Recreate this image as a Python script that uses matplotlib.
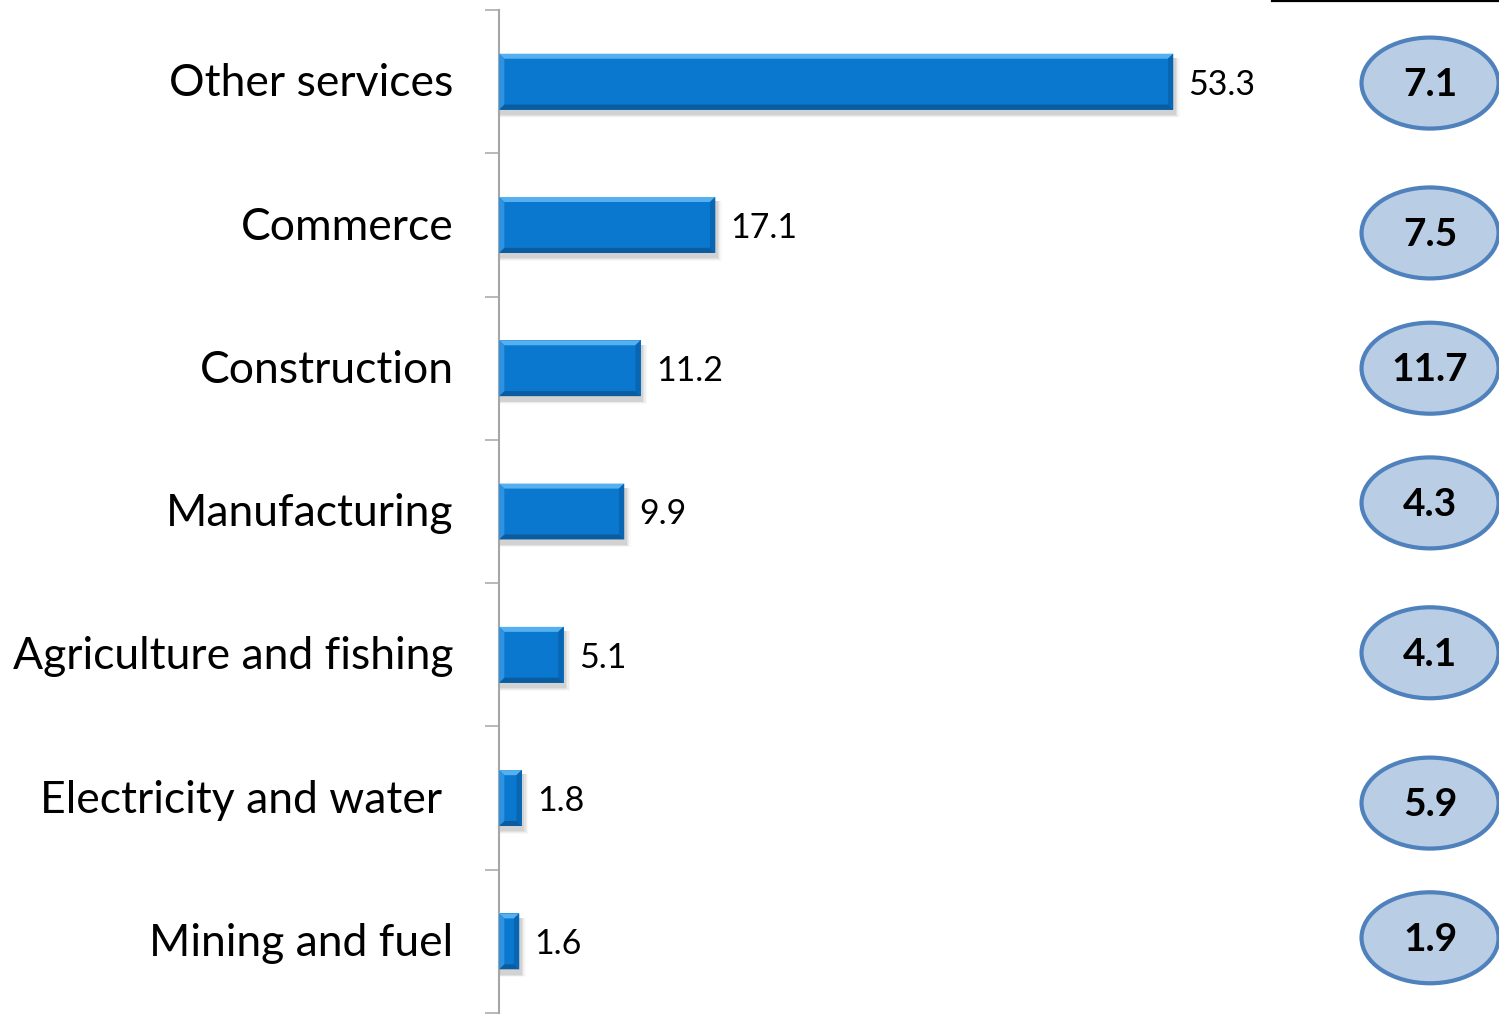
import matplotlib
matplotlib.use("Agg")
import matplotlib.pyplot as plt
from matplotlib.patches import Rectangle, Polygon, Ellipse
from matplotlib.lines import Line2D

plt.rcParams["font.family"] = ["Lato", "DejaVu Sans"]

sectors = ["Other services", "Commerce", "Construction", "Manufacturing",
           "Agriculture and fishing", "Electricity and water ", "Mining and fuel"]
shares = [53.3, 17.1, 11.2, 9.9, 5.1, 1.8, 1.6]
growth = [7.1, 7.5, 11.7, 4.3, 4.1, 5.9, 1.9]

# small vertical nudges of the bubbles relative to the bar rows
bubble_dy = [0.01, 0.056, 0.0, -0.06, -0.014, 0.035, -0.025]

W, H, DPI = 1499, 1017, 100
fig = plt.figure(figsize=(W / DPI, H / DPI), dpi=DPI)
ax = fig.add_axes([499 / W, 4 / H, 1000 / W, 1003 / H])

XMAX = 1000 / 12.65
ax.set_xlim(0, XMAX)
ax.set_ylim(len(sectors) - 0.5, -0.5)

BAR_H = 0.39
BX = 0.42   # bevel size in x units
BY = 0.035  # bevel size in y units

for i, v in enumerate(shares):
    top = i - BAR_H / 2
    bot = i + BAR_H / 2
    # soft drop shadow
    for k, a in enumerate([0.035, 0.05, 0.07, 0.09]):
        off = 0.45 - k * 0.1
        ax.add_patch(Rectangle((0.1, top + 0.03), v + off - 0.05, BAR_H + off * 0.055,
                               facecolor="#404040", alpha=a, lw=0, zorder=1))
    ax.add_patch(Rectangle((0, top), v, BAR_H, facecolor="#0B78D0", lw=0, zorder=2))
    bx = min(BX, v / 3)
    # bevel edges: light top/left, dark bottom/right
    ax.add_patch(Polygon([(0, top), (v, top), (v - bx, top + BY), (bx, top + BY)],
                         closed=True, facecolor="#55B0F0", lw=0, zorder=3))
    ax.add_patch(Polygon([(0, bot), (v, bot), (v - bx, bot - BY), (bx, bot - BY)],
                         closed=True, facecolor="#0A5C9E", lw=0, zorder=3))
    ax.add_patch(Polygon([(v, top), (v, bot), (v - bx, bot - BY), (v - bx, top + BY)],
                         closed=True, facecolor="#0866B2", lw=0, zorder=3))
    ax.add_patch(Polygon([(0, top), (0, bot), (bx, bot - BY), (bx, top + BY)],
                         closed=True, facecolor="#2D92E2", lw=0, zorder=3))
    ax.text(v + 1.2, i + 0.02, f"{v:.1f}", ha="left", va="center", fontsize=24.5,
            color="black", zorder=4)

    # growth bubble on the right
    cy = i + bubble_dy[i]
    ax.add_patch(Ellipse((73.6, cy), 137 / 12.65, 0.635, facecolor="#B9CDE5",
                         edgecolor="#4F81BD", lw=3, zorder=4, clip_on=False))
    ax.text(73.6, cy + 0.01, f"{growth[i]:.1f}", ha="center", va="center",
            fontsize=28, fontweight="bold", color="black", zorder=5)

# category labels
for i, name in enumerate(sectors):
    ax.text(-3.6, i + 0.015, name, ha="right", va="center", fontsize=32,
            color="black")

for s in ["top", "right", "bottom"]:
    ax.spines[s].set_visible(False)
ax.spines["left"].set_color("#A6A6A6")
ax.spines["left"].set_linewidth(1.5)
ax.set_xticks([])
ax.set_yticks([i - 0.5 for i in range(len(sectors) + 1)])
ax.set_yticklabels([])
ax.tick_params(axis="y", direction="out", length=10, width=1.1, color="#A6A6A6")

# rule at top right
fig.add_artist(Line2D([1272 / W, 1.0], [1 - 1 / H, 1 - 1 / H], color="black",
                      lw=1.6, transform=fig.transFigure))

fig.savefig("out.png", dpi=DPI)
